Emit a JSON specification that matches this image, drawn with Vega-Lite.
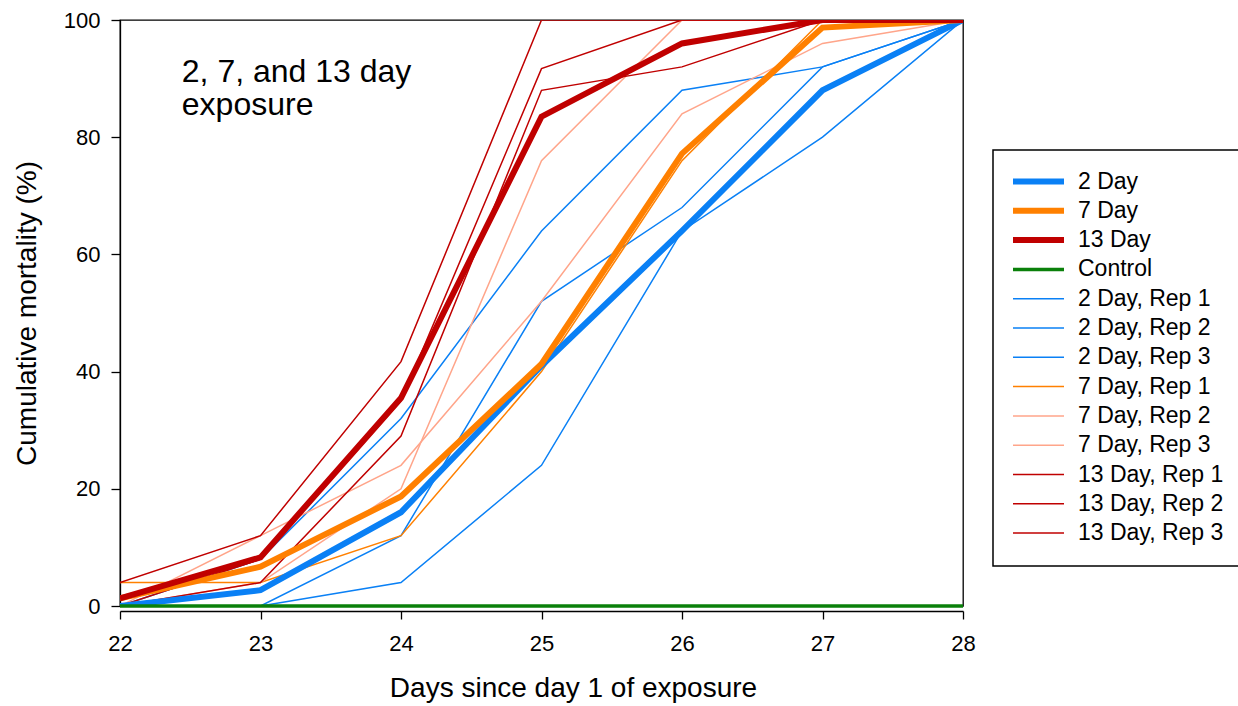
{
  "$schema": "https://vega.github.io/schema/vega-lite/v6.json",
  "width": 843,
  "height": 586,
  "autosize": {"type": "none"},
  "padding": {"left": 120, "top": 20, "right": 275, "bottom": 100},
  "background": "white",
  "config": {
    "font": "Liberation Sans",
    "view": {"stroke": "black", "strokeWidth": 1.3},
    "axis": {
      "grid": false,
      "domainColor": "black",
      "domainWidth": 1.3,
      "tickColor": "black",
      "tickWidth": 1.3,
      "labelColor": "black",
      "titleColor": "black",
      "labelFont": "Liberation Sans",
      "titleFont": "Liberation Sans",
      "labelFontSize": 22,
      "titleFontSize": 28,
      "titleFontWeight": "normal",
      "labelFlush": false
    }
  },
  "datasets": {
    "mort": [
      {"series": "2 Day, Rep 1", "day": 22, "mortality": 0},
      {"series": "2 Day, Rep 1", "day": 23, "mortality": 8},
      {"series": "2 Day, Rep 1", "day": 24, "mortality": 32},
      {"series": "2 Day, Rep 1", "day": 25, "mortality": 64},
      {"series": "2 Day, Rep 1", "day": 26, "mortality": 88},
      {"series": "2 Day, Rep 1", "day": 27, "mortality": 92},
      {"series": "2 Day, Rep 1", "day": 28, "mortality": 100},
      {"series": "2 Day, Rep 2", "day": 22, "mortality": 0},
      {"series": "2 Day, Rep 2", "day": 23, "mortality": 0},
      {"series": "2 Day, Rep 2", "day": 24, "mortality": 12},
      {"series": "2 Day, Rep 2", "day": 25, "mortality": 52},
      {"series": "2 Day, Rep 2", "day": 26, "mortality": 68},
      {"series": "2 Day, Rep 2", "day": 27, "mortality": 92},
      {"series": "2 Day, Rep 2", "day": 28, "mortality": 100},
      {"series": "2 Day, Rep 3", "day": 22, "mortality": 0},
      {"series": "2 Day, Rep 3", "day": 23, "mortality": 0},
      {"series": "2 Day, Rep 3", "day": 24, "mortality": 4},
      {"series": "2 Day, Rep 3", "day": 25, "mortality": 24},
      {"series": "2 Day, Rep 3", "day": 26, "mortality": 64},
      {"series": "2 Day, Rep 3", "day": 27, "mortality": 80},
      {"series": "2 Day, Rep 3", "day": 28, "mortality": 100},
      {"series": "7 Day, Rep 1", "day": 22, "mortality": 4},
      {"series": "7 Day, Rep 1", "day": 23, "mortality": 4},
      {"series": "7 Day, Rep 1", "day": 24, "mortality": 12},
      {"series": "7 Day, Rep 1", "day": 25, "mortality": 40},
      {"series": "7 Day, Rep 1", "day": 26, "mortality": 76},
      {"series": "7 Day, Rep 1", "day": 27, "mortality": 100},
      {"series": "7 Day, Rep 1", "day": 28, "mortality": 100},
      {"series": "7 Day, Rep 2", "day": 22, "mortality": 0},
      {"series": "7 Day, Rep 2", "day": 23, "mortality": 12},
      {"series": "7 Day, Rep 2", "day": 24, "mortality": 24},
      {"series": "7 Day, Rep 2", "day": 25, "mortality": 52},
      {"series": "7 Day, Rep 2", "day": 26, "mortality": 84},
      {"series": "7 Day, Rep 2", "day": 27, "mortality": 96},
      {"series": "7 Day, Rep 2", "day": 28, "mortality": 100},
      {"series": "7 Day, Rep 3", "day": 22, "mortality": 0},
      {"series": "7 Day, Rep 3", "day": 23, "mortality": 4},
      {"series": "7 Day, Rep 3", "day": 24, "mortality": 20},
      {"series": "7 Day, Rep 3", "day": 25, "mortality": 76},
      {"series": "7 Day, Rep 3", "day": 26, "mortality": 100},
      {"series": "7 Day, Rep 3", "day": 27, "mortality": 100},
      {"series": "7 Day, Rep 3", "day": 28, "mortality": 100},
      {"series": "13 Day, Rep 1", "day": 22, "mortality": 4},
      {"series": "13 Day, Rep 1", "day": 23, "mortality": 12},
      {"series": "13 Day, Rep 1", "day": 24, "mortality": 41.7},
      {"series": "13 Day, Rep 1", "day": 25, "mortality": 100},
      {"series": "13 Day, Rep 1", "day": 26, "mortality": 100},
      {"series": "13 Day, Rep 1", "day": 27, "mortality": 100},
      {"series": "13 Day, Rep 1", "day": 28, "mortality": 100},
      {"series": "13 Day, Rep 2", "day": 22, "mortality": 0},
      {"series": "13 Day, Rep 2", "day": 23, "mortality": 4},
      {"series": "13 Day, Rep 2", "day": 24, "mortality": 29},
      {"series": "13 Day, Rep 2", "day": 25, "mortality": 88},
      {"series": "13 Day, Rep 2", "day": 26, "mortality": 92},
      {"series": "13 Day, Rep 2", "day": 27, "mortality": 100},
      {"series": "13 Day, Rep 2", "day": 28, "mortality": 100},
      {"series": "13 Day, Rep 3", "day": 22, "mortality": 0},
      {"series": "13 Day, Rep 3", "day": 23, "mortality": 8},
      {"series": "13 Day, Rep 3", "day": 24, "mortality": 35},
      {"series": "13 Day, Rep 3", "day": 25, "mortality": 91.7},
      {"series": "13 Day, Rep 3", "day": 26, "mortality": 100},
      {"series": "13 Day, Rep 3", "day": 27, "mortality": 100},
      {"series": "13 Day, Rep 3", "day": 28, "mortality": 100},
      {"series": "2 Day", "day": 22, "mortality": 0},
      {"series": "2 Day", "day": 23, "mortality": 2.7},
      {"series": "2 Day", "day": 24, "mortality": 16},
      {"series": "2 Day", "day": 25, "mortality": 41},
      {"series": "2 Day", "day": 26, "mortality": 64},
      {"series": "2 Day", "day": 27, "mortality": 88},
      {"series": "2 Day", "day": 28, "mortality": 100},
      {"series": "7 Day", "day": 22, "mortality": 1.3},
      {"series": "7 Day", "day": 23, "mortality": 6.7},
      {"series": "7 Day", "day": 24, "mortality": 18.7},
      {"series": "7 Day", "day": 25, "mortality": 41.3},
      {"series": "7 Day", "day": 26, "mortality": 77.2},
      {"series": "7 Day", "day": 27, "mortality": 98.7},
      {"series": "7 Day", "day": 28, "mortality": 100},
      {"series": "13 Day", "day": 22, "mortality": 1.3},
      {"series": "13 Day", "day": 23, "mortality": 8.3},
      {"series": "13 Day", "day": 24, "mortality": 35.5},
      {"series": "13 Day", "day": 25, "mortality": 83.5},
      {"series": "13 Day", "day": 26, "mortality": 96},
      {"series": "13 Day", "day": 27, "mortality": 100},
      {"series": "13 Day", "day": 28, "mortality": 100},
      {"series": "Control", "day": 22, "mortality": 0},
      {"series": "Control", "day": 23, "mortality": 0},
      {"series": "Control", "day": 24, "mortality": 0},
      {"series": "Control", "day": 25, "mortality": 0},
      {"series": "Control", "day": 26, "mortality": 0},
      {"series": "Control", "day": 27, "mortality": 0},
      {"series": "Control", "day": 28, "mortality": 0}
    ],
    "label": [
      {"line1": "2, 7, and 13 day", "line2": "exposure"}
    ]
  },
  "layer": [
    {
      "data": {"name": "mort"},
      "transform": [{"filter": "indexof(datum.series, 'Rep') >= 0"}],
      "mark": {"type": "line", "strokeWidth": 1.5, "clip": true},
      "encoding": {
        "x": {
          "field": "day",
          "type": "quantitative",
          "scale": {"domain": [22, 28], "nice": false, "zero": false},
          "axis": {
            "title": "Days since day 1 of exposure",
            "values": [22, 23, 24, 25, 26, 27, 28],
            "format": "d",
            "tickSize": 8,
            "offset": 5,
            "labelPadding": 14,
            "titlePadding": 20,
            "titleX": 453,
            "titleAlign": "center"
          }
        },
        "y": {
          "field": "mortality",
          "type": "quantitative",
          "scale": {"domain": [0, 100], "nice": false},
          "axis": {
            "title": "Cumulative mortality (%)",
            "values": [0, 20, 40, 60, 80, 100],
            "tickSize": 9,
            "labelPadding": 11,
            "titlePadding": 22
          }
        },
        "color": {
          "field": "series",
          "type": "nominal",
          "scale": {
            "domain": ["2 Day", "7 Day", "13 Day", "Control", "2 Day, Rep 1", "2 Day, Rep 2", "2 Day, Rep 3", "7 Day, Rep 1", "7 Day, Rep 2", "7 Day, Rep 3", "13 Day, Rep 1", "13 Day, Rep 2", "13 Day, Rep 3"],
            "range": ["#0A80F5", "#FF8000", "#C00000", "#0A800A", "#0A80F5", "#0A80F5", "#0A80F5", "#FF8000", "#FFA58A", "#FFA58A", "#C00000", "#C00000", "#C00000"]
          },
          "legend": {
            "title": null,
            "orient": "none",
            "legendX": 873,
            "legendY": 130,
            "padding": 20,
            "strokeColor": "black",
            "fillColor": "white",
            "symbolType": "stroke",
            "symbolSize": 2601,
            "symbolStrokeWidth": 1.5,
            "symbolOffset": 14,
            "labelFontSize": 23,
            "labelFont": "Liberation Sans",
            "labelColor": "black",
            "labelOffset": 28,
            "gridAlign": "all",
            "rowPadding": 4.3,
            "labelExpr": "datum.label + '\u00a0\u00a0\u00a0\u00a0\u00a0\u00a0'",
            "encode": {
              "legend": {"update": {"strokeWidth": {"value": 1.5}}},
              "symbols": {
                "update": {
                  "strokeWidth": {"signal": "indexof(['2 Day','7 Day','13 Day'], datum.value) >= 0 ? 6 : (datum.value == 'Control' ? 3.5 : 1.5)"}
                }
              }
            }
          }
        },
        "detail": {"field": "series"}
      }
    },
    {
      "data": {"name": "mort"},
      "transform": [{"filter": "indexof(['2 Day','7 Day','13 Day'], datum.series) >= 0"}],
      "mark": {"type": "line", "strokeWidth": 6, "clip": true},
      "encoding": {
        "x": {"field": "day", "type": "quantitative"},
        "y": {"field": "mortality", "type": "quantitative"},
        "color": {"field": "series", "type": "nominal"},
        "detail": {"field": "series"}
      }
    },
    {
      "data": {"name": "mort"},
      "transform": [{"filter": "datum.series == 'Control'"}],
      "mark": {"type": "line", "strokeWidth": 3.5, "clip": false},
      "encoding": {
        "x": {"field": "day", "type": "quantitative"},
        "y": {"field": "mortality", "type": "quantitative"},
        "color": {"field": "series", "type": "nominal"}
      }
    },
    {
      "data": {"name": "label"},
      "mark": {
        "type": "text",
        "fontSize": 32,
        "font": "Liberation Sans",
        "align": "left",
        "baseline": "alphabetic",
        "lineHeight": 33,
        "color": "black"
      },
      "encoding": {
        "x": {"datum": 22.44, "type": "quantitative"},
        "y": {"datum": 89.5, "type": "quantitative"},
        "text": {"value": ["2, 7, and 13 day", "exposure"]}
      }
    }
  ]
}
